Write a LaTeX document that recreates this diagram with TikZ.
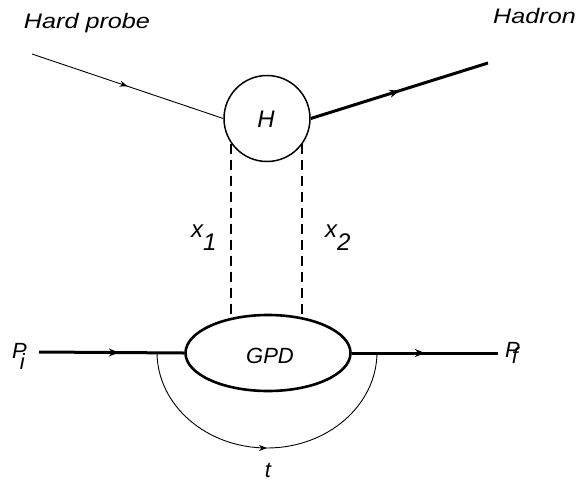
\documentclass[tikz,border=0pt]{standalone}
\usepackage{fontspec}
\setmainfont{Liberation Sans}
\usetikzlibrary{shapes.geometric,decorations.markings,arrows.meta}
\newcommand\wide[1]{\scalebox{1.2}[1]{#1}}
\tikzset{
  lbl/.style={inner sep=0pt,font=\fontsize{21}{21}\selectfont\itshape},
  biglbl/.style={inner sep=0pt,font=\fontsize{24}{24}\selectfont\itshape},
  thinline/.style={line width=0.9pt},
  thickline/.style={line width=3pt},
  midarrow/.style={postaction={decorate},decoration={markings,
    mark=at position #1 with {\arrow{Stealth[length=8pt,width=6pt]}}}},
  midarrowbig/.style={postaction={decorate},decoration={markings,
    mark=at position #1 with {\arrow{Stealth[length=10pt,width=8pt]}}}},
  dashline/.style={line width=2pt,dash pattern=on 10pt off 6pt},
}
\begin{document}
\begin{tikzpicture}[x=1pt,y=-1pt]
\useasboundingbox (0,0) rectangle (579,483);
% nodes
\node[circle,draw,line width=1.5pt,minimum size=86pt,inner sep=0pt] (H) at (267,118.5) {};
\node[biglbl,anchor=base] (Ht) at (266,127) {H};
\node[ellipse,draw,line width=2.6pt,minimum width=165pt,minimum height=76pt,inner sep=0pt] (G) at (268,353) {};
\node[lbl,font=\fontsize{22}{22}\selectfont\itshape,anchor=base] (Gt) at (270,363) {GPD};
% labels
\node[lbl,anchor=base] (hp) at (87,28) {\wide{Hard probe}};
\node[lbl,anchor=base] (had) at (534.5,23) {\wide{Hadron}};
\node[biglbl,anchor=base west] (x1) at (191,237) {x\raisebox{-13pt}{1}};
\node[biglbl,anchor=base west] (x2) at (325,237) {x\raisebox{-13pt}{2}};
\node[lbl,font=\fontsize{22}{22}\selectfont\itshape,anchor=base west] (Pi) at (12,358) {P\kern-7pt\raisebox{-11pt}{i}};
\node[lbl,font=\fontsize{22}{22}\selectfont\itshape,anchor=base west] (Pf) at (505,357) {P\kern-8pt\raisebox{-6pt}{f}};
\node[lbl,font=\fontsize{22}{22}\selectfont\itshape,anchor=base] (t) at (268,477) {t};
% coordinates
\coordinate (hpS) at (32,54);
\coordinate (hadE) at (488,63);
\coordinate (piS) at (39,352);
\coordinate (pfE) at (498,353);
\coordinate (arcL) at (157,352);
% connectors
\draw[thinline,midarrow=0.5] (hpS) -- (H.west);
\draw[thickline,midarrowbig=0.5] (H.east) -- (hadE);
\draw[dashline] (H.215.5) -- (H.215.5 |- G.136.5);
\draw[dashline] (H.324.5) -- (H.324.5 |- G.43.5);
\draw[thickline,midarrowbig=0.55] (piS) -- (G.west);
\draw[thickline,midarrowbig=0.5] (G.east) -- (pfE);
\draw[thinline,midarrow=0.5] (arcL) arc[start angle=180,end angle=360,x radius=110pt,y radius=96pt];
\end{tikzpicture}
\end{document}
